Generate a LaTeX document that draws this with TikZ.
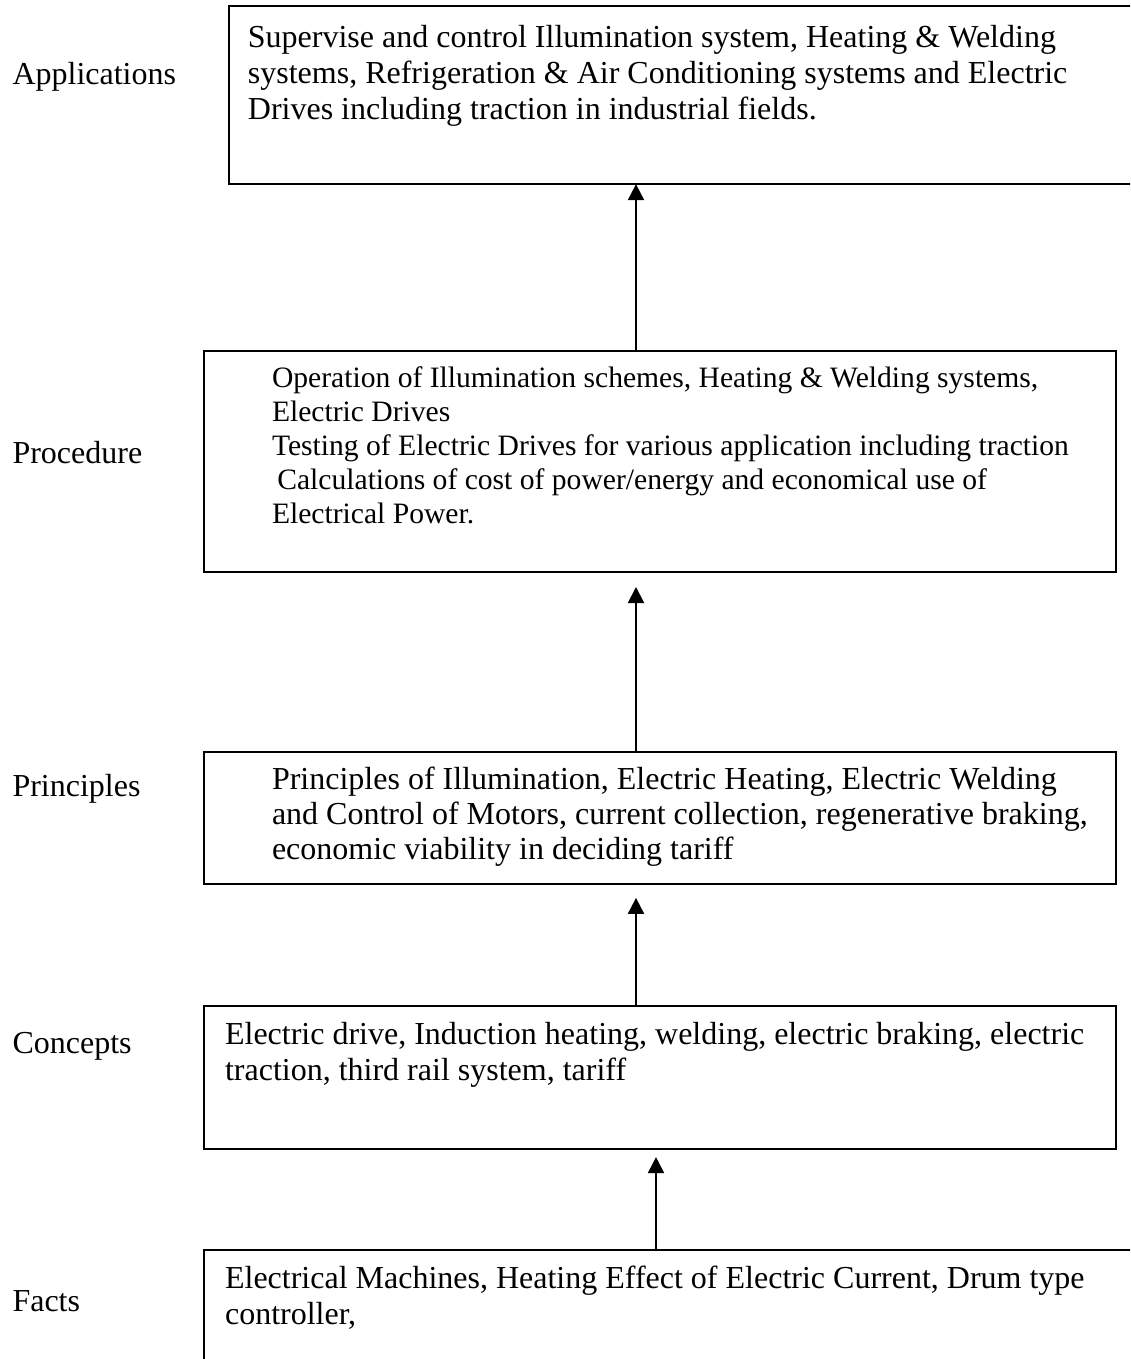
\documentclass[tikz,border=0pt]{standalone}
\usepackage{fontspec}
\setmainfont{Liberation Serif}
\usepackage{tikz}
\usetikzlibrary{arrows.meta,positioning}

\tikzset{
  stagebox/.style={draw, line width=0.75pt, anchor=north west, align=flush left,
    inner xsep=2pt, inner ysep=0pt, outer sep=0pt, font=\fontsize{12}{13.6}\selectfont},
  textindent/.style={execute at begin node={\leftskip=#1}},
  stagename/.style={anchor=base west, inner sep=0pt, font=\fontsize{12}{14}\selectfont},
  flow/.style={-{Triangle[length=6pt,width=6pt]}, line width=0.75pt}
}

\begin{document}
\begin{tikzpicture}[x=0.375pt, y=-0.375pt]
\useasboundingbox (0,0) rectangle (1130,1359);
\clip (0,0) rectangle (1130,1359);
% stages, top to bottom
\node[stagebox, textindent=5.1pt, text width=341.4pt, text height=15.4pt, text depth=51.4pt] (appl) at (229,6)
  {Supervise and control Illumination system, Heating \& Welding\\
   systems, Refrigeration \& Air Conditioning systems and Electric\\
   Drives including traction in industrial fields.};
\node[stagebox, textindent=23.5pt, text width=338pt, text height=13.5pt, text depth=69.4pt,
  font=\fontsize{11.1}{12.75}\selectfont] (proc) at (204,351)
  {Operation of Illumination schemes, Heating \& Welding systems,\\
   Electric Drives\\
   Testing of Electric Drives for various application including traction\\
   \hspace*{2pt}Calculations of cost of power/energy and economical use of\\
   Electrical Power.};
\node[stagebox, textindent=23.5pt, text width=338pt, text height=13.9pt, text depth=35.6pt,
  font=\fontsize{12}{13.2}\selectfont] (prin) at (204,752)
  {Principles of Illumination, Electric Heating, Electric Welding\\
   and Control of Motors, current collection, regenerative braking,\\
   economic viability in deciding tariff};
\node[stagebox, textindent=5.9pt, text width=338pt, text height=14.25pt, text depth=39.4pt] (conc) at (204,1006)
  {Electric drive, Induction heating, welding, electric braking, electric\\
   traction, third rail system, tariff};
\node[stagebox, textindent=5.9pt, text width=348.5pt, text height=14.25pt, text depth=45pt] (facts) at (204,1250)
  {Electrical Machines, Heating Effect of Electric Current, Drum type\\
   controller,};

% level names
\node[stagename] (lapp) at (12,85) {Applications};
\node[stagename] (lproc) at (12,463) {Procedure};
\node[stagename] (lprin) at (12,796) {Principles};
\node[stagename] (lconc) at (12,1053) {Concepts};
\node[stagename] (lfact) at (12,1311) {Facts};

% arrows
\coordinate (spine) at (636,0);
\coordinate (spineb) at (656,0);
\draw[flow] (proc.north -| spine) -- (appl.south -| spine);
\draw[flow, shorten >=5.6pt] (prin.north -| spine) -- (proc.south -| spine);
\draw[flow, shorten >=5.2pt] (conc.north -| spine) -- (prin.south -| spine);
\draw[flow, shorten >=3pt] (facts.north -| spineb) -- (conc.south -| spineb);
\end{tikzpicture}
\end{document}
